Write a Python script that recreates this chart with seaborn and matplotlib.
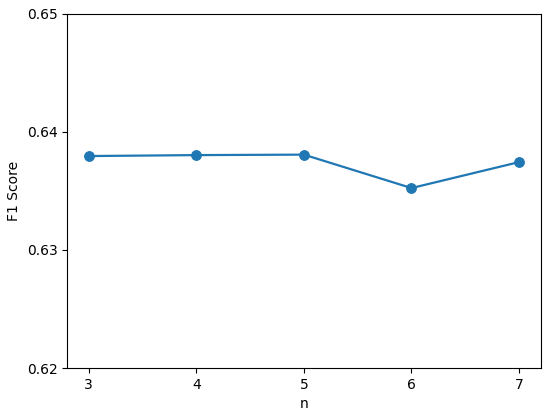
import matplotlib
matplotlib.use("Agg")
import matplotlib.pyplot as plt
import seaborn as sns
import pandas as pd

n_values = [3, 4, 5, 6, 7]
f1_scores = [0.63795, 0.63803, 0.63807, 0.63524, 0.63744]

df = pd.DataFrame({"n": n_values, "F1 Score": f1_scores})

fig, ax = plt.subplots(figsize=(5.5, 4.15), dpi=100)
fig.subplots_adjust(left=0.122, right=0.983, top=0.967, bottom=0.113)

sns.lineplot(data=df, x="n", y="F1 Score", marker="o", markersize=7,
             color="#1f77b4", linewidth=1.6, markeredgecolor="#1f77b4", ax=ax)

ax.set_ylim(0.62, 0.65)
ax.set_yticks([0.62, 0.63, 0.64, 0.65])
ax.set_xticks(n_values)
ax.set_xlabel("n")
ax.set_ylabel("F1 Score")

fig.savefig("out.png", dpi=100)
